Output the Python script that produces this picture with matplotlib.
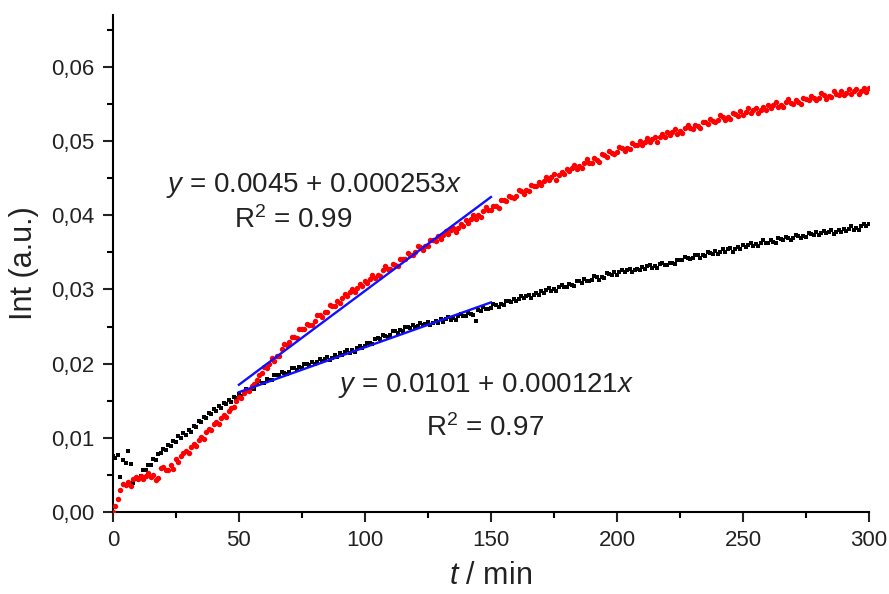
import numpy as np
import matplotlib
matplotlib.use("Agg")
import matplotlib.pyplot as plt
from matplotlib.ticker import MultipleLocator, FuncFormatter

plt.rcParams['font.family'] = ['Liberation Sans', 'DejaVu Sans']
plt.rcParams['mathtext.fontset'] = 'custom'
plt.rcParams['mathtext.rm'] = 'Liberation Sans'
plt.rcParams['mathtext.it'] = 'Liberation Sans:italic'

# Intensity values in units of 1e-4 (a.u.), one reading per minute, 0..300 min
red_1e4 = [
    0, 8, 17, 30, 38, 36, 40, 35, 44, 47,
    45, 49, 44, 48, 52, 47, 50, 43, 46, 59,
    61, 57, 56, 63, 58, 72, 67, 75, 79, 82,
    80, 87, 92, 89, 97, 101, 99, 108, 112, 110,
    118, 121, 119, 127, 131, 128, 136, 140, 142, 149,
    155, 153, 160, 165, 163, 170, 173, 178, 184, 187,
    195, 194, 200, 207, 204, 210, 210, 220, 227, 225,
    229, 236, 236, 235, 246, 247, 246, 254, 252, 252,
    257, 266, 266, 263, 270, 269, 279, 278, 278, 285,
    282, 288, 294, 291, 297, 301, 296, 302, 307, 304,
    312, 309, 314, 319, 315, 320, 318, 326, 331, 327,
    327, 334, 333, 331, 341, 341, 341, 349, 347, 346,
    350, 358, 357, 353, 359, 358, 367, 366, 365, 372,
    368, 373, 379, 375, 380, 383, 377, 383, 388, 385,
    393, 390, 395, 400, 395, 400, 398, 406, 411, 407,
    407, 413, 412, 410, 420, 420, 419, 426, 424, 423,
    426, 434, 433, 428, 434, 433, 441, 440, 439, 445,
    441, 446, 451, 447, 451, 455, 448, 454, 458, 455,
    462, 459, 463, 468, 462, 466, 464, 471, 476, 471,
    470, 477, 475, 472, 482, 481, 479, 486, 484, 482,
    485, 492, 491, 486, 491, 489, 497, 495, 494, 500,
    495, 499, 504, 499, 503, 506, 499, 505, 509, 505,
    512, 508, 512, 516, 510, 514, 511, 518, 522, 517,
    516, 522, 520, 517, 526, 525, 523, 530, 527, 525,
    528, 535, 533, 528, 533, 530, 538, 536, 534, 540,
    535, 539, 544, 538, 542, 545, 538, 542, 546, 542,
    549, 544, 548, 552, 546, 549, 546, 553, 556, 551,
    550, 555, 553, 550, 558, 557, 555, 561, 558, 555,
    558, 565, 562, 557, 561, 559, 567, 564, 562, 567,
    562, 565, 570, 564, 568, 570, 563, 567, 571, 566,
    571,
]

black_1e4 = [
    76, 73, 77, 47, 70, 66, 82, 65, 39, 44,
    46, 48, 57, 56, 63, 64, 71, 70, 78, 79,
    85, 84, 91, 89, 96, 95, 102, 100, 106, 104,
    110, 108, 116, 114, 122, 121, 128, 127, 134, 132,
    139, 136, 143, 140, 147, 145, 151, 148, 155, 153,
    159, 157, 162, 166, 163, 167, 166, 172, 176, 174,
    174, 179, 178, 178, 184, 185, 184, 189, 187, 186,
    189, 194, 194, 191, 195, 194, 200, 199, 198, 202,
    199, 202, 206, 203, 206, 209, 205, 208, 211, 209,
    214, 211, 215, 218, 214, 218, 216, 221, 224, 221,
    224, 228, 228, 227, 233, 234, 233, 238, 237, 236,
    239, 244, 244, 241, 245, 244, 250, 249, 248, 252,
    249, 251, 255, 252, 254, 256, 252, 255, 257, 255,
    260, 256, 260, 263, 259, 261, 259, 264, 267, 264,
    264, 268, 267, 266, 258, 272, 271, 276, 274, 273,
    275, 280, 279, 276, 280, 279, 285, 284, 283, 287,
    284, 287, 291, 288, 291, 293, 289, 292, 295, 293,
    298, 295, 299, 302, 298, 300, 298, 303, 306, 303,
    303, 307, 306, 305, 311, 311, 309, 314, 312, 311,
    313, 318, 317, 313, 317, 316, 322, 321, 319, 323,
    320, 323, 326, 323, 326, 327, 323, 326, 328, 326,
    330, 327, 331, 333, 329, 331, 329, 334, 336, 333,
    333, 336, 335, 334, 340, 340, 339, 344, 342, 341,
    343, 347, 346, 343, 346, 345, 351, 349, 348, 352,
    348, 351, 355, 351, 354, 356, 351, 354, 357, 355,
    360, 357, 360, 363, 359, 361, 359, 363, 366, 363,
    362, 366, 364, 363, 369, 368, 367, 371, 369, 367,
    369, 373, 372, 369, 372, 371, 376, 375, 373, 377,
    373, 376, 379, 376, 378, 380, 375, 378, 380, 378,
    382, 379, 382, 385, 380, 383, 380, 385, 388, 385,
    388,
]

t_start, t_end = 0, 300
red = np.array(red_1e4) / 1e4
black = np.array(black_1e4) / 1e4
t_red = np.linspace(t_start, t_end, len(red))
t_black = np.linspace(t_start, t_end, len(black))

# Linear fits (intercept, slope) over 50..150 min
fit_red = (0.0045, 0.000253)
fit_black = (0.0101, 0.000121)
fit_range = np.array([50, 150])

fig = plt.figure(figsize=(8.89, 5.94), dpi=100)
ax = fig.add_axes([0.127, 0.138, 0.8505, 0.837])

ax.plot(t_black, black, 's', color='black', markersize=3.3, markeredgewidth=0, zorder=2)
ax.plot(t_red, red, 'o', color='#ff0000', markersize=3.9, markeredgewidth=0, zorder=3)

ax.plot(fit_range, fit_red[0] + fit_red[1] * fit_range, color='#1010ff', lw=1.7, zorder=4)
ax.plot(fit_range, fit_black[0] + fit_black[1] * fit_range, color='#1010ff', lw=1.7, zorder=4)

ax.set_xlim(0, 300)
ax.set_ylim(0, 0.067)
for s in ['top', 'right']:
    ax.spines[s].set_visible(False)
for s in ['left', 'bottom']:
    ax.spines[s].set_linewidth(1.5)

ax.xaxis.set_major_locator(MultipleLocator(50))
ax.xaxis.set_minor_locator(MultipleLocator(25))
ax.yaxis.set_major_locator(MultipleLocator(0.01))
ax.yaxis.set_minor_locator(MultipleLocator(0.005))
ax.yaxis.set_major_formatter(FuncFormatter(lambda v, p: f"{v:.2f}".replace('.', ',')))
ax.tick_params(which='major', direction='out', length=7, width=1.5, labelsize=16,
               colors='#222222', pad=6)
ax.tick_params(which='minor', direction='out', length=4, width=1.5)

ax.set_xlabel(r"$t$ / min", fontsize=22, color='#222222', labelpad=7)
ax.set_ylabel("Int (a.u.)", fontsize=22, color='#222222', labelpad=9)

ann = dict(fontsize=20, ha='center', va='center', color='#222222')
ax.text(79.8, 0.0440, r"$y$ = 0.0045 + 0.000253$x$", **ann)
ax.text(71.6, 0.0393, r"R$^2$ = 0.99", **ann)
ax.text(148, 0.0171, r"$y$ = 0.0101 + 0.000121$x$", **ann)
ax.text(147.6, 0.0113, r"R$^2$ = 0.97", **ann)

fig.savefig("out.png", dpi=100)
